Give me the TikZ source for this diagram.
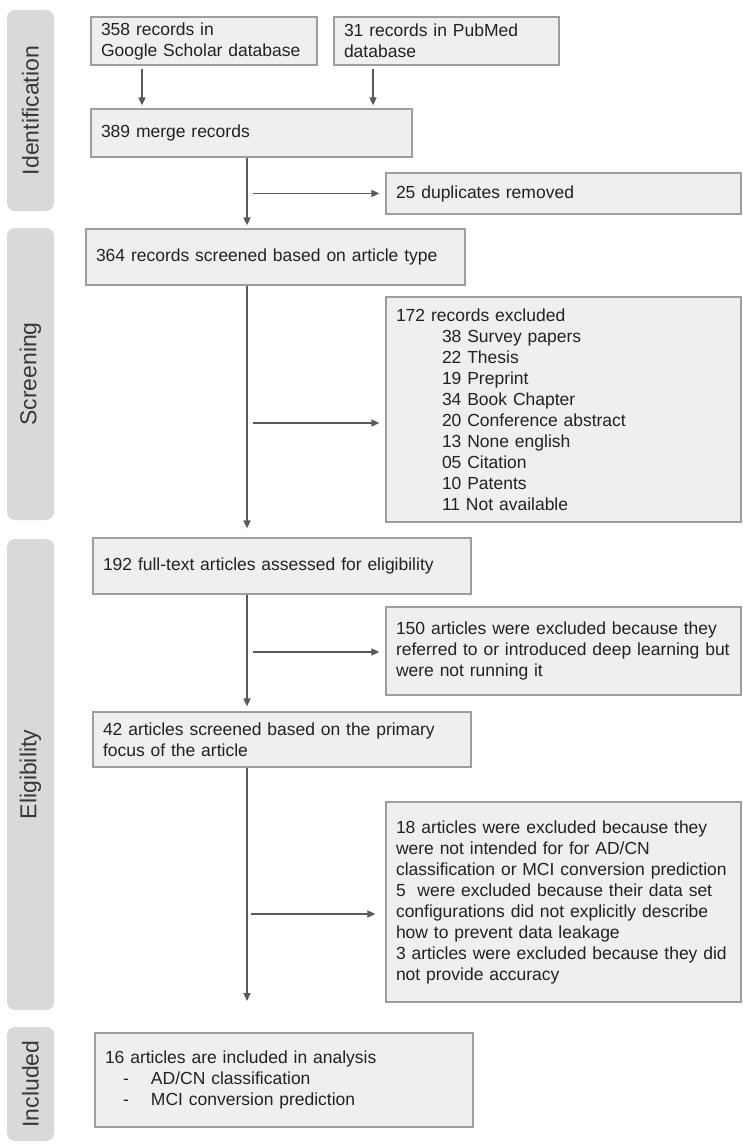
\documentclass[tikz,border=0pt]{standalone}
\usepackage{xcolor}
\usepackage{fontspec}
\setmainfont{Liberation Sans}
\usetikzlibrary{arrows.meta}
\definecolor{LaneGray}{HTML}{D9D9D9}
\definecolor{BoxFill}{HTML}{EFEFEF}
\definecolor{BoxEdge}{HTML}{9E9E9E}
\definecolor{ArrowGray}{HTML}{595959}
\definecolor{TextDark}{HTML}{222222}

\begin{document}
\begin{tikzpicture}[x=1pt,y=-1pt,
  box/.style={draw=BoxEdge,line width=1.2pt,fill=BoxFill,inner xsep=10pt,inner ysep=0pt,
    align=left,text=TextDark,font=\fontsize{17.5}{21}\selectfont},
  lane/.style={fill=LaneGray,rounded corners=8pt,rotate=90,minimum height=47pt,
    text=TextDark!90,font=\fontsize{23}{26}\selectfont},
  arr/.style={draw=ArrowGray,line width=1.6pt,-{Triangle[length=8pt,width=7pt]}}]
  \useasboundingbox (0,0) rectangle (743,1148);
  % phase lanes
  \node[lane,minimum width=201pt] (ident) at (30.5,110.5) {Identification};
  \node[lane,minimum width=292pt] (screen) at (30.5,374) {Screening};
  \node[lane,minimum width=471pt] (elig) at (30.5,774.5) {Eligibility};
  \node[lane,minimum width=114pt] (incl) at (30.5,1084) {Included};
  % boxes
  \node[box,text width=206pt,minimum height=48pt] (gs) at (204,41) {358 records in\\Google Scholar database};
  \node[box,text width=205pt,minimum height=48pt] (pm) at (446.5,41) {31 records in PubMed\\database};
  \node[box,text width=301pt,minimum height=48pt] (merge) at (251.5,133) {389 merge records};
  \node[box,text width=335pt,minimum height=41pt] (dup) at (563.5,193.5) {25 duplicates removed};
  \node[box,text width=359pt,minimum height=56pt] (type) at (275.5,257) {364 records screened based on article type};
  \node[box,text width=335pt,minimum height=225pt] (excl) at (563.5,409.5) {172 records excluded\\
    \hspace*{46pt}38 Survey papers\\
    \hspace*{46pt}22 Thesis\\
    \hspace*{46pt}19 Preprint\\
    \hspace*{46pt}34 Book Chapter\\
    \hspace*{46pt}20 Conference abstract\\
    \hspace*{46pt}13 None english\\
    \hspace*{46pt}05 Citation\\
    \hspace*{46pt}10 Patents\\
    \hspace*{46pt}11 Not available};
  \node[box,text width=358pt,minimum height=56pt] (full) at (282,566) {192 full-text articles assessed for eligibility};
  \node[box,text width=335pt,minimum height=88pt] (norun) at (563.5,651) {150 articles were excluded because they\\referred to or introduced deep learning but\\were not running it};
  \node[box,text width=358pt,minimum height=55pt] (focus) at (282,739.5) {42 articles screened based on the primary\\focus of the article};
  \node[box,text width=335pt,minimum height=200pt] (excl2) at (563.5,902) {18 articles were excluded because they\\were not intended for for AD/CN\\classification or MCI conversion prediction\\5~ were excluded because their data set\\configurations did not explicitly describe\\how to prevent data leakage\\3 articles were excluded because they did\\not provide accuracy};
  \node[box,text width=358pt,minimum height=94pt] (final) at (284,1080) {16 articles are included in analysis\\
    \hspace*{18pt}\makebox[28pt][l]{-}AD/CN classification\\
    \hspace*{18pt}\makebox[28pt][l]{-}MCI conversion prediction};
  % flow
  \coordinate (spine) at (247,0);
  \coordinate (endflow) at (247,1001);
  \draw[arr,shorten <=3pt,shorten >=3pt] (gs.south -| 142,0) -- (merge.north -| 142,0);
  \draw[arr,shorten <=3pt,shorten >=3pt] (pm.south -| 373,0) -- (merge.north -| 373,0);
  \draw[arr,shorten >=3pt] (merge.south -| spine) -- (type.north -| spine);
  \draw[arr,shorten >=9pt] (type.south -| spine) -- (full.north -| spine);
  \draw[arr,shorten >=5pt] (full.south -| spine) -- (focus.north -| spine);
  \draw[arr] (focus.south -| spine) -- (endflow);
  \coordinate (s1) at (253,193.5);
  \coordinate (s2) at (253,423);
  \coordinate (s3) at (253,652);
  \coordinate (s4) at (251,914);
  \draw[arr,shorten >=6pt] (s1) -- (dup.west |- s1);
  \draw[arr,shorten >=6pt] (s2) -- (excl.west |- s2);
  \draw[arr,shorten >=6pt] (s3) -- (norun.west |- s3);
  \draw[arr,shorten >=10pt] (s4) -- (excl2.west |- s4);
\end{tikzpicture}
\end{document}
